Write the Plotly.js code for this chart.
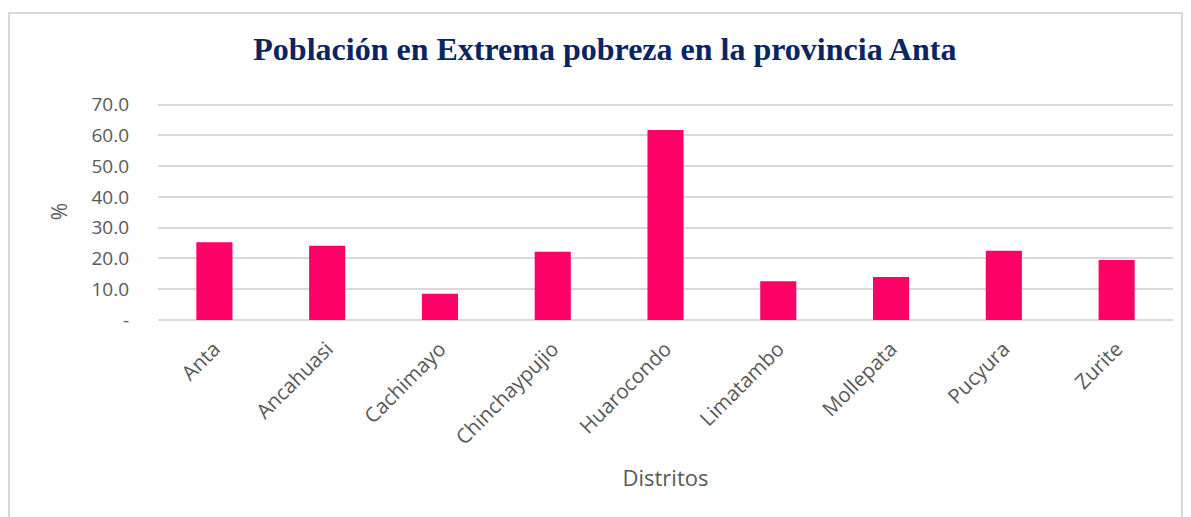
<!DOCTYPE html>
<html>
<head>
<meta charset="utf-8">
<script src="https://cdn.plot.ly/plotly-3.0.1.min.js"></script>
<style>
html,body{margin:0;padding:0;background:#fff;overflow:hidden;}
#frame{position:absolute;left:8px;top:12px;width:1175px;height:520px;border:2px solid #d9d9d9;box-sizing:border-box;}
#chart{width:1171px;height:516px;}
</style>
</head>
<body>
<div id="frame"><div id="chart"></div></div>
<script>
const distritos = ["Anta","Ancahuasi","Cachimayo","Chinchaypujio","Huarocondo","Limatambo","Mollepata","Pucyura","Zurite"];
const pobrezaExtrema = [25.3, 24.1, 8.5, 22.2, 61.7, 12.6, 14.0, 22.5, 19.5];
const yTickVals = [0,10,20,30,40,50,60,70];
const yTickText = ["-","10.0","20.0","30.0","40.0","50.0","60.0","70.0"];

const trace = {
  type: "bar",
  x: distritos,
  y: pobrezaExtrema,
  marker: {color: "#ff0066"},
  hoverinfo: "x+y"
};

const layout = {
  width: 1171, height: 516,
  margin: {l: 148, r: 8, t: 89, b: 210},
  paper_bgcolor: "#fff", plot_bgcolor: "#fff",
  bargap: 0.68,
  showlegend: false,
  title: {
    text: "<b>Población en Extrema pobreza en la provincia Anta</b>",
    font: {family: "Liberation Serif, Times New Roman, serif", size: 32, color: "#0b2462"},
    x: 0.508, xanchor: "center", y: 0.932, yanchor: "middle"
  },
  font: {family: "Open Sans, sans-serif", color: "#595959"},
  xaxis: {
    tickangle: -45,
    tickfont: {size: 20.5, color: "#595959"},
    showgrid: false, zeroline: false, showline: false, ticks: "",
    ticklabelstandoff: 12,
    title: {text: "Distritos", font: {size: 22, color: "#595959"}, standoff: 21}
  },
  yaxis: {
    range: [0, 70.5],
    tickvals: yTickVals, ticktext: yTickText,
    tickfont: {size: 19, color: "#595959"},
    gridcolor: "#d9d9d9", gridwidth: 1.5,
    zeroline: true, zerolinecolor: "#d9d9d9", zerolinewidth: 1.5,
    showline: false, ticks: "",
    ticklabelstandoff: 28,
    title: {text: "%", font: {size: 21, color: "#595959"}, standoff: 18}
  }
};

Plotly.newPlot("chart", [trace], layout, {displayModeBar: false, responsive: false});
</script>
</body>
</html>
